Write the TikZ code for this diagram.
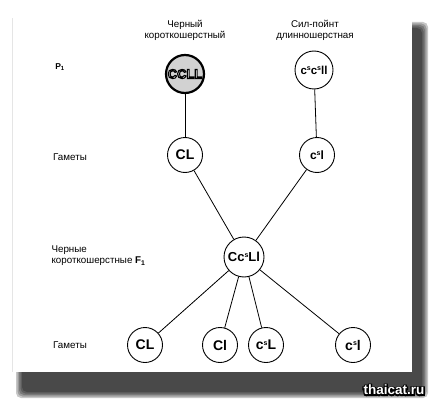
\documentclass[tikz,border=0pt]{standalone}
\usepackage{fontspec}
\setmainfont{Liberation Sans}
\newcommand\sal{\raisebox{0.55ex}{\fontsize{7}{7}\selectfont s}}
\newcommand\ringtext[2]{{\color{white}\special{pdf:literal direct 2 Tr #1 w 0 G}#2\special{pdf:literal direct 0 Tr}}}
\newcommand\haloed[1]{\rlap{\special{pdf:literal direct 1 Tr 2.6 w 0 G}#1\special{pdf:literal direct 0 Tr}}{\color{white}#1}}
\begin{document}
\begin{tikzpicture}[x=1pt,y=-1pt,
    allele/.style={circle,draw,line width=0.9pt,minimum size=35pt,inner sep=0pt,
      font=\fontsize{14}{14}\selectfont\bfseries},
    parent/.style={allele,minimum size=38pt,font=\fontsize{11.5}{12}\selectfont\bfseries},
    lbl/.style={font=\fontsize{9.8}{11}\selectfont,align=center},
    link/.style={line width=0.8pt}]
    \useasboundingbox (0,0) rectangle (433,401);

    % card with its shadow
    \foreach \d in {0,1.5,...,6}
        \fill[black,opacity=0.22,rounded corners=5pt] (16+\d,22+\d) rectangle (428-\d,398-\d);
    \fill[white] (12,18) rectangle (412,372);
    \draw[black!10] (12,18) -- (12,372);

    % parents
    \node[parent,line width=2.2pt,fill=gray!35,font=\fontsize{13}{13}\selectfont\bfseries] (ccll) at (185,74) {\ringtext{1.1}{CCLL}};
    \node[parent] (cscs) at (314,70) {c\sal c\sal ll};
    \node[lbl] (black) at (185,30) {Черный\\короткошерстный};
    \node[lbl] (seal) at (315,30) {Сил-пойнт\\длинношерстная};

    % gametes of the parents
    \node[allele] (gCL) at (185,155) {CL};
    \node[allele,font=\fontsize{12}{12}\selectfont\bfseries] (gcl) at (317,155) {c\sal l};

    % hybrid
    \node[allele,minimum size=40pt,font=\fontsize{13}{13}\selectfont\bfseries] (f1) at (244,257) {Cc\sal Ll};

    % gametes of the hybrid
    \node[allele] (hCL) at (145,345) {CL};
    \node[allele] (hCl) at (220,345) {Cl};
    \node[allele] (hcL) at (266,345) {c\sal L};
    \node[allele] (hcl) at (353,345) {c\sal l};

    % row labels
    \node[lbl,font=\fontsize{8.5}{10}\selectfont\bfseries] (p1) at (60,67) {P\textsubscript{1}};
    \node[lbl] (gam1) at (70,157) {Гаметы};
    \node[lbl,align=left,anchor=west] (f1lbl) at (48,256) {Черные\\короткошерстные {\bfseries F\textsubscript{1}}};
    \node[lbl] (gam2) at (70,345) {Гаметы};

    \draw[link] (ccll) -- (gCL);
    \draw[link] (cscs) -- (gcl);
    \draw[link] (gCL) -- (f1);
    \draw[link] (gcl) -- (f1);
    \foreach \g in {hCL,hCl,hcL,hcl}
        \draw[link] (f1) -- (\g);

    \node[font=\fontsize{13.5}{14}\selectfont\bfseries] (mark) at (394,390) {\haloed{thaicat.ru}};
\end{tikzpicture}
\end{document}
